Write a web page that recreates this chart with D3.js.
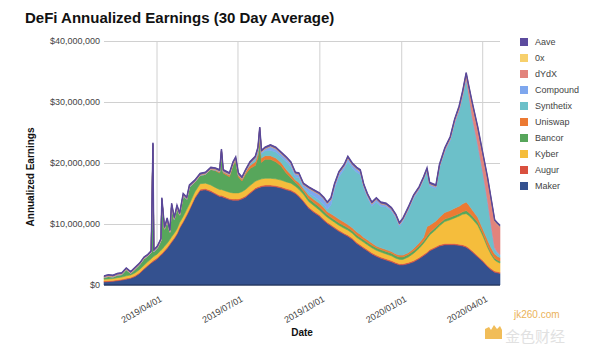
<!DOCTYPE html>
<html>
<head>
<meta charset="utf-8">
<script src="https://cdn.jsdelivr.net/npm/d3@7"></script>
<style>
  body { margin: 0; background: #fff; }
  svg { font-family: "Liberation Sans", Arial, sans-serif; }
</style>
</head>
<body>
<div id="chart"></div>
<script>
'use strict';

// sample dates (values are in millions of USD, 30 day average)
const dates = [
  "2019-02-01","2019-02-06","2019-02-11","2019-02-16","2019-02-21","2019-02-26","2019-03-03","2019-03-08","2019-03-13","2019-03-18",
  "2019-03-22","2019-03-26","2019-03-28","2019-03-29","2019-04-02","2019-04-06","2019-04-07","2019-04-10","2019-04-13","2019-04-16",
  "2019-04-18","2019-04-21","2019-04-24","2019-04-27","2019-05-01","2019-05-05","2019-05-08","2019-05-14","2019-05-20","2019-05-26",
  "2019-06-01","2019-06-06","2019-06-11","2019-06-13","2019-06-15","2019-06-22","2019-06-26","2019-06-29","2019-07-02","2019-07-06",
  "2019-07-10","2019-07-15","2019-07-21","2019-07-24","2019-07-26","2019-07-28","2019-08-01","2019-08-07","2019-08-13","2019-08-19",
  "2019-08-25","2019-08-30","2019-09-04","2019-09-08","2019-09-13","2019-09-19","2019-09-25","2019-10-01","2019-10-06","2019-10-10",
  "2019-10-14","2019-10-18","2019-10-23","2019-10-29","2019-11-02","2019-11-07","2019-11-12","2019-11-16","2019-11-20","2019-11-24",
  "2019-11-29","2019-12-04","2019-12-09","2019-12-15","2019-12-21","2019-12-26","2019-12-30","2020-01-03","2020-01-09","2020-01-15",
  "2020-01-21","2020-01-26","2020-01-30","2020-02-02","2020-02-09","2020-02-13","2020-02-19","2020-02-25","2020-03-01","2020-03-06",
  "2020-03-10","2020-03-14","2020-03-17","2020-03-21","2020-03-27","2020-04-02","2020-04-07","2020-04-11","2020-04-15","2020-04-18",
  "2020-04-21"
];

const maker = [
  0.5,0.55,0.6,0.7,0.8,0.95,1.1,1.4,1.9,2.6,
  3.1,3.6,3.8,3.9,4.3,4.9,5.0,5.5,6.0,6.6,
  7.0,7.6,8.3,9.3,10.3,11.4,12.3,14.2,15.5,15.6,
  15.3,14.9,14.5,14.5,14.4,14.0,13.9,13.9,13.9,14.1,
  14.4,15.0,15.7,15.9,16.0,16.1,16.2,16.2,16.1,15.9,
  15.6,15.4,15.0,14.5,13.7,12.6,11.9,11.3,10.6,10.1,
  9.7,9.3,8.8,8.3,8.0,7.5,6.8,6.4,6.0,5.6,
  5.1,4.7,4.4,4.1,3.8,3.5,3.3,3.3,3.5,3.8,
  4.3,4.8,5.2,5.6,6.1,6.4,6.6,6.6,6.6,6.5,
  6.4,6.2,5.9,5.4,4.6,3.8,3.0,2.5,2.1,2.0,
  1.9
];

const augur = [
  0.15,0.15,0.15,0.15,0.15,0.15,0.15,0.15,0.15,0.15,
  0.15,0.15,0.2,0.2,0.2,0.2,0.2,0.2,0.2,0.2,
  0.2,0.2,0.2,0.2,0.2,0.2,0.2,0.2,0.2,0.2,
  0.2,0.2,0.2,0.2,0.2,0.2,0.2,0.2,0.2,0.2,
  0.2,0.2,0.2,0.2,0.2,0.2,0.2,0.2,0.2,0.2,
  0.2,0.2,0.2,0.2,0.2,0.2,0.2,0.2,0.2,0.2,
  0.2,0.2,0.2,0.2,0.2,0.2,0.2,0.2,0.2,0.2,
  0.2,0.2,0.2,0.2,0.2,0.2,0.2,0.2,0.2,0.2,
  0.2,0.2,0.2,0.2,0.2,0.2,0.2,0.2,0.2,0.2,
  0.2,0.2,0.2,0.2,0.2,0.2,0.2,0.2,0.2,0.2,
  0.2
];

const kyber = [
  0.3,0.3,0.3,0.35,0.35,0.4,0.4,0.45,0.5,0.5,
  0.55,0.55,0.6,0.6,0.6,0.6,0.6,0.65,0.65,0.65,
  0.7,0.7,0.7,0.75,0.75,0.8,0.8,0.85,0.9,0.9,
  0.9,0.9,0.95,0.95,0.95,1.0,1.0,1.0,1.0,1.0,
  1.05,1.1,1.1,1.1,1.1,1.1,1.1,1.1,1.1,1.1,
  1.1,1.1,1.0,1.0,1.0,0.9,0.9,0.8,0.8,0.8,
  0.8,0.8,0.8,0.8,0.8,0.8,0.8,0.8,0.8,0.8,
  0.8,0.8,0.8,0.8,0.8,0.7,0.7,0.7,0.9,1.2,
  1.5,1.8,2.2,2.4,2.8,3.1,3.6,3.9,4.2,4.6,
  5.0,5.3,5.3,5.2,5.0,4.0,3.0,2.3,1.8,1.6,
  1.5
];

const bancor = [
  0.25,0.4,0.25,0.4,0.4,1.0,0.25,0.6,0.75,1.05,
  0.9,1.0,18.35,0.75,0.95,1.55,8.15,2.8,3.8,1.2,
  5.15,2.25,3.55,1.2,3.4,1.65,2.75,1.6,1.35,1.45,
  2.55,2.75,2.7,6.1,2.8,2.55,4.45,5.25,2.65,1.75,
  2.5,2.8,2.6,3.7,6.6,2.7,3.1,3.1,2.8,2.3,
  1.4,0.9,0.6,0.6,0.5,0.5,0.5,0.5,0.5,0.4,
  0.4,0.4,0.4,0.4,0.4,0.4,0.4,0.4,0.4,0.4,
  0.4,0.4,0.4,0.4,0.4,0.4,0.4,0.4,0.4,0.4,
  0.4,0.4,0.4,0.4,0.4,0.4,0.4,0.4,0.4,0.4,
  0.4,0.5,0.5,0.5,0.5,0.4,0.3,0.3,0.3,0.3,
  0.3
];

const uniswap = [
  0,0,0,0,0,0,0,0,0,0,
  0,0,0,0,0,0,0,0,0,0,
  0,0,0,0,0,0,0,0,0,0,
  0,0.1,0.2,0.2,0.2,0.3,0.3,0.3,0.3,0.3,
  0.4,0.5,0.6,0.6,0.7,0.7,0.6,0.6,0.6,0.6,
  0.6,0.5,0.4,0.5,0.4,0.5,0.5,0.6,0.6,0.5,
  0.6,0.6,0.6,0.6,0.5,0.5,0.5,0.5,0.4,0.4,
  0.4,0.3,0.3,0.3,0.3,0.3,0.3,0.3,0.3,0.4,
  0.5,0.6,1.6,1.2,1.0,1.0,1.1,1.1,1.2,1.2,
  1.3,1.4,1.2,1.0,0.8,0.7,0.9,0.8,0.7,0.6,
  0.6
];

const synthetix = [
  0,0,0,0,0,0,0,0,0,0,
  0,0,0,0,0,0,0,0,0,0,
  0,0,0,0,0,0,0,0,0,0,
  0,0,0,0,0,0,0,0,0,0,
  0,0.2,0.4,0.6,0.7,0.7,0.8,0.9,1.0,0.9,
  1.3,1.3,0.5,0.8,0.2,0.4,0.5,0.5,0.5,0.4,
  1.4,4.3,6.9,8.7,10.4,9.8,9.8,9.8,8.0,6.9,
  6.0,7.2,6.8,7.0,6.6,5.9,4.7,5.5,6.9,8.2,
  8.6,9.3,9.0,6.4,5.3,8.1,9.9,11.4,13.8,15.5,
  17.5,20.2,17.9,14.9,11.8,9.0,6.3,3.6,0.8,0.5,
  0.3
];

const compound = [
  0.05,0.05,0.05,0.05,0.05,0.05,0.05,0.05,0.05,0.05,
  0.05,0.05,0.05,0.05,0.05,0.05,0.05,0.05,0.05,0.05,
  0.05,0.05,0.05,0.05,0.05,0.05,0.05,0.05,0.05,0.05,
  0.05,0.05,0.05,0.05,0.05,0.05,0.05,0.05,0.05,0.05,
  0.05,0.1,0.2,0.2,0.3,0.3,0.3,0.6,0.5,0.5,
  0.5,0.5,0.5,0.5,0.4,0.7,0.8,0.9,0.9,0.9,
  0.9,0.7,0.6,0.5,0.5,0.5,0.5,0.5,0.4,0.4,
  0.4,0.4,0.4,0.3,0.3,0.3,0.3,0.3,0.3,0.3,
  0.3,0.3,0.3,0.3,0.3,0.3,0.3,0.3,0.3,0.3,
  0.3,0.2,0.2,0.2,0.2,0.2,0.2,0.2,0.2,0.2,
  0.2
];

const dydx = [
  0.05,0.05,0.05,0.05,0.05,0.05,0.05,0.05,0.05,0.05,
  0.05,0.05,0.05,0.05,0.05,0.05,0.05,0.05,0.05,0.05,
  0.05,0.05,0.05,0.05,0.05,0.05,0.05,0.05,0.05,0.05,
  0.05,0.05,0.05,0.05,0.05,0.05,0.05,0.05,0.05,0.05,
  0.05,0.05,0.05,0.05,0.05,0.05,0.05,0.05,0.05,0.05,
  0.05,0.05,0.05,0.05,0.05,0.05,0.05,0.05,0.05,0.05,
  0.05,0.05,0.05,0.05,0.05,0.05,0.05,0.05,0.05,0.05,
  0.05,0.05,0.05,0.05,0.05,0.05,0.05,0.05,0.05,0.05,
  0.05,0.05,0.05,0.05,0.05,0.05,0.1,0.1,0.2,0.3,
  0.4,0.5,1.1,2.1,2.5,2.8,3.5,4.0,4.3,4.5,
  4.5
];

const zrx = [
  0.05,0.05,0.05,0.05,0.05,0.05,0.05,0.05,0.05,0.05,
  0.05,0.05,0.05,0.05,0.05,0.05,0.05,0.05,0.05,0.05,
  0.05,0.05,0.05,0.05,0.05,0.05,0.05,0.05,0.05,0.05,
  0.05,0.05,0.05,0.05,0.05,0.05,0.05,0.05,0.05,0.05,
  0.05,0.05,0.05,0.05,0.05,0.05,0.05,0.05,0.05,0.05,
  0.05,0.05,0.05,0.05,0.05,0.05,0.05,0.05,0.05,0.05,
  0.05,0.05,0.05,0.05,0.05,0.05,0.05,0.05,0.05,0.05,
  0.05,0.05,0.05,0.05,0.05,0.05,0.05,0.05,0.05,0.05,
  0.05,0.05,0.05,0.05,0.05,0.05,0.1,0.1,0.1,0.1,
  0.1,0.1,0.1,0.1,0.1,0.1,0.1,0.1,0.1,0.1,
  0.1
];

const aave = [
  0.15,0.15,0.15,0.15,0.15,0.15,0.15,0.15,0.15,0.15,
  0.15,0.15,0.2,0.2,0.2,0.2,0.2,0.2,0.2,0.2,
  0.2,0.2,0.2,0.2,0.2,0.2,0.2,0.2,0.2,0.2,
  0.2,0.2,0.2,0.2,0.2,0.2,0.2,0.2,0.2,0.2,
  0.2,0.2,0.2,0.2,0.2,0.2,0.2,0.2,0.2,0.2,
  0.2,0.2,0.2,0.2,0.2,0.2,0.2,0.2,0.2,0.2,
  0.2,0.2,0.2,0.2,0.2,0.2,0.2,0.2,0.2,0.2,
  0.2,0.2,0.2,0.2,0.2,0.2,0.2,0.2,0.2,0.2,
  0.2,0.2,0.2,0.2,0.2,0.2,0.2,0.2,0.2,0.2,
  0.2,0.2,0.2,0.2,0.2,0.2,0.2,0.2,0.2,0.2,
  0.2
];

// stack order, bottom to top
const seriesNames = ["Maker","Augur","Kyber","Bancor","Uniswap","Synthetix","Compound","dYdX","0x","Aave"];
const seriesValues = [maker, augur, kyber, bancor, uniswap, synthetix, compound, dydx, zrx, aave];
const seriesColors = ["#34518f","#d9503f","#f5bd3c","#57a65b","#ec7a33","#6cc0c9","#7ea7ee","#e2837c","#f7d06c","#5c4b9e"];
const yTicks = [0, 10, 20, 30, 40];

const width = 600, height = 350;
const plotLeft = 104, plotRight = 500, plotTop = 41, plotBottom = 285;

const svg = d3.select("#chart").append("svg")
    .attr("width", width)
    .attr("height", height);

const parse = d3.timeParse("%Y-%m-%d");
const rows = dates.map((d, i) => {
    let r = { date: parse(d) };
    seriesNames.forEach((n, k) => r[n] = seriesValues[k][i]);
    return r;
});

const x = d3.scaleTime()
    .domain([parse(dates[0]), parse(dates[dates.length - 1])])
    .range([plotLeft, plotRight]);
const y = d3.scaleLinear()
    .domain([0, 40])
    .range([plotBottom, plotTop]);

// y axis with horizontal grid
const yAxis = svg.append("g")
    .attr("transform", "translate(" + plotLeft + ",0)")
    .call(d3.axisLeft(y).tickValues(yTicks).tickSize(-(plotRight - plotLeft)).tickPadding(4)
        .tickFormat(d => "$" + d3.format(",")(d * 1e6)));
yAxis.select(".domain").remove();
yAxis.selectAll("line").attr("stroke", "#d0d0d0");
yAxis.selectAll("text").attr("fill", "#444").attr("font-size", 9);

// x axis with vertical grid
const xTicks = x.ticks(d3.timeMonth.every(3));
const xAxis = svg.append("g")
    .attr("transform", "translate(0," + plotBottom + ")")
    .call(d3.axisBottom(x).tickValues(xTicks).tickSize(-(plotBottom - plotTop)).tickFormat(d3.timeFormat("%Y/%m/%d")));
xAxis.select(".domain").remove();
xAxis.selectAll("line").attr("stroke", "#d0d0d0");
xAxis.selectAll("text")
    .attr("fill", "#444")
    .attr("font-size", 9)
    .attr("text-anchor", "end")
    .attr("transform", "translate(4,13) rotate(-30)")
    .attr("dy", "0.35em")
    .attr("y", 0);

// stacked areas
const stack = d3.stack().keys(seriesNames);
const layers = stack(rows);
const area = d3.area()
    .x(d => x(d.data.date))
    .y0(d => y(d[0]))
    .y1(d => y(d[1]));

svg.append("g").selectAll("path")
    .data(layers)
    .enter()
    .append("path")
    .attr("d", area)
    .attr("fill", (d, i) => seriesColors[i])
    .attr("stroke", (d, i) => seriesColors[i])
    .attr("stroke-width", 0.6);

// outline on top of the stack
const topLine = d3.line()
    .x(d => x(d.data.date))
    .y(d => y(d[1]));
svg.append("path")
    .datum(layers[layers.length - 1])
    .attr("d", topLine)
    .attr("fill", "none")
    .attr("stroke", "#5a4899")
    .attr("stroke-width", 1.4);

// bottom line
svg.append("line")
    .attr("x1", plotLeft).attr("x2", plotRight)
    .attr("y1", plotBottom).attr("y2", plotBottom)
    .attr("stroke", "#1f2f55")
    .attr("stroke-width", 1);

// titles
svg.append("text")
    .attr("x", 25).attr("y", 23)
    .attr("font-size", 15).attr("font-weight", "bold").attr("fill", "#111")
    .text("DeFi Annualized Earnings (30 Day Average)");

svg.append("text")
    .attr("transform", "translate(34,177) rotate(-90)")
    .attr("text-anchor", "middle")
    .attr("font-size", 10).attr("font-weight", "bold").attr("fill", "#111")
    .text("Annualized Earnings");

svg.append("text")
    .attr("x", 302).attr("y", 336)
    .attr("text-anchor", "middle")
    .attr("font-size", 10).attr("font-weight", "bold").attr("fill", "#111")
    .text("Date");

// legend, top of the stack first
const legendItems = seriesNames.map((n, i) => ({ name: n, color: seriesColors[i] })).reverse();
const legend = svg.append("g").selectAll("g")
    .data(legendItems)
    .enter()
    .append("g")
    .attr("transform", (d, i) => "translate(520," + (42 + i * 16) + ")");
legend.append("rect")
    .attr("x", 0).attr("y", -4)
    .attr("width", 8).attr("height", 8)
    .attr("fill", d => d.color);
legend.append("text")
    .attr("x", 15).attr("y", 0).attr("dy", "0.35em")
    .attr("font-size", 9).attr("fill", "#444")
    .text(d => d.name);

// watermark
const wm = svg.append("g").attr("opacity", 0.85);
wm.append("path")
    .attr("d", "M485,339 L485,329 L489,327 L491,330 L494,325 L497,329 L500,326 L502,330 L502,339 Z")
    .attr("fill", "#efb23d");
wm.append("text")
    .attr("x", 505).attr("y", 342)
    .attr("font-size", 15).attr("fill", "#dcdcdc")
    .attr("font-family", "Noto Sans CJK SC")
    .text("金色财经");
wm.append("text")
    .attr("x", 514).attr("y", 318)
    .attr("font-size", 10).attr("fill", "#e8a53a")
    .text("jk260.com");
</script>
</body>
</html>
